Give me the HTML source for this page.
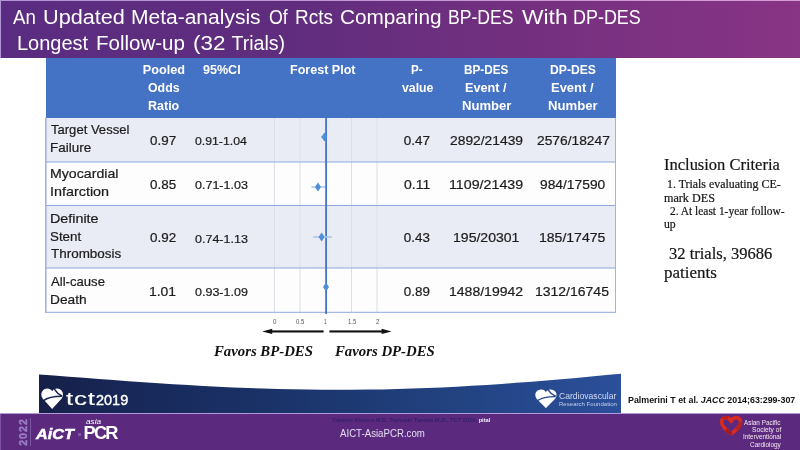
<!DOCTYPE html>
<html lang="en">
<head>
<meta charset="utf-8">
<title>An Updated Meta-analysis Of Rcts Comparing BP-DES With DP-DES</title>
<style>
html,body{margin:0;padding:0;}
body{width:800px;height:450px;position:relative;overflow:hidden;background:#fff;font-family:"Liberation Sans",sans-serif;}
.abs{position:absolute;}
.t{position:absolute;white-space:nowrap;transform-origin:0 50%;line-height:1;}
#hdr{left:0;top:0;width:800px;height:58px;background:linear-gradient(90deg,#5a2c81 0%,#602d7e 36%,#75307f 68%,#893485 100%);}
#hdr:before{content:"";position:absolute;left:0;top:0;width:800px;height:1px;background:linear-gradient(90deg,#b394d4,#d99ad8);}
#hdr:after{content:"";position:absolute;left:0;top:0;width:1px;height:58px;background:#b394d4;}
</style>
</head>
<body>
<!-- header -->
<div id="hdr" class="abs"></div>

<!-- table backgrounds -->
<div class="abs" style="left:45.5px;top:58px;width:570.3px;height:59.6px;background:#4472c4;"></div>
<div class="abs" style="left:45px;top:117.6px;width:571px;height:44.4px;background:#e9ebf5;"></div>
<div class="abs" style="left:45px;top:162px;width:571px;height:43.5px;background:#fdfdfe;"></div>
<div class="abs" style="left:45px;top:205.5px;width:571px;height:62.5px;background:#e9ebf5;"></div>
<div class="abs" style="left:45px;top:268px;width:571px;height:44.5px;background:#fdfdfe;"></div>

<!-- forest plot + lines -->
<svg class="abs" style="left:0;top:0;" width="800" height="450" viewBox="0 0 800 450">
  <g stroke="#dcdfe9" stroke-width="1">
    <line x1="274.5" y1="118" x2="274.5" y2="312"/>
    <line x1="300" y1="118" x2="300" y2="312"/>
    <line x1="351.5" y1="118" x2="351.5" y2="312"/>
    <line x1="377" y1="118" x2="377" y2="312"/>
  </g>
  <g stroke="#8fa9dc" stroke-width="1">
    <line x1="45" y1="162" x2="616" y2="162"/>
    <line x1="45" y1="205.5" x2="616" y2="205.5"/>
    <line x1="45" y1="268" x2="616" y2="268"/>
    <line x1="45" y1="312.3" x2="616" y2="312.3"/>
    <line x1="45.8" y1="117.6" x2="45.8" y2="312.8" stroke="#a3b3dd" stroke-width="1.6"/>
    <line x1="615.5" y1="117.6" x2="615.5" y2="312.8" stroke="#a3b3dd"/>
  </g>
  <line x1="326.1" y1="116" x2="326.1" y2="314" stroke="#4472c4" stroke-width="1.8"/>
  <g stroke="#a9c8ea" stroke-width="1.6">
    <line x1="321" y1="137" x2="326" y2="137"/>
    <line x1="311.5" y1="187" x2="325" y2="187"/>
    <line x1="313" y1="237" x2="332" y2="237"/>
  </g>
  <g fill="#4f8fd6">
    <path d="M324.4 132.6 l3 4.4 l-3 4.4 l-3 -4.4z"/>
    <path d="M318 182.6 l3 4.4 l-3 4.4 l-3 -4.4z"/>
    <path d="M321.6 232.6 l3 4.4 l-3 4.4 l-3 -4.4z"/>
    <path d="M326 282.6 l3 4.4 l-3 4.4 l-3 -4.4z"/>
  </g>
  <!-- arrows -->
  <g fill="#111">
    <rect x="269" y="330.4" width="54.6" height="2.1"/>
    <path d="M262.2 331.4 l10 -2.6 v5.2z"/>
    <rect x="329.4" y="330.4" width="55" height="2.1"/>
    <path d="M391.6 331.4 l-10 -2.6 v5.2z"/>
  </g>
</svg>

<!-- navy band -->
<svg class="abs" style="left:39px;top:370px;" width="582" height="43" viewBox="0 0 582 43">
  <defs>
    <linearGradient id="nv" x1="0" y1="0" x2="1" y2="0">
      <stop offset="0" stop-color="#162048"/>
      <stop offset="0.16" stop-color="#182859"/>
      <stop offset="0.36" stop-color="#1a3166"/>
      <stop offset="0.53" stop-color="#1d3972"/>
      <stop offset="0.71" stop-color="#224280"/>
      <stop offset="0.9" stop-color="#284b92"/>
      <stop offset="1" stop-color="#2b4f99"/>
    </linearGradient>
  </defs>
  <path d="M0 4.50 L14.9 5.60 L29.8 6.72 L44.8 7.85 L59.7 8.97 L74.6 10.08 L89.5 11.16 L104.5 12.21 L119.4 13.22 L134.3 14.18 L149.2 15.08 L164.2 15.92 L179.1 16.69 L194.0 17.38 L208.9 18.00 L223.8 18.53 L238.8 18.97 L253.7 19.32 L268.6 19.58 L283.5 19.74 L298.5 19.80 L313.4 19.76 L328.3 19.62 L343.2 19.38 L358.2 19.03 L373.1 18.59 L388.0 18.05 L402.9 17.41 L417.8 16.67 L432.8 15.85 L447.7 14.94 L462.6 13.94 L477.5 12.87 L492.5 11.72 L507.4 10.51 L522.3 9.23 L537.2 7.90 L552.2 6.51 L567.1 5.10 L582.0 3.64 L582 43 L0 43Z" fill="url(#nv)"/>
</svg>
<!-- tct heart -->
<svg class="abs" style="left:40.8px;top:388px;" width="22.3" height="21.4" viewBox="0 0 22 21" preserveAspectRatio="none">
  <path d="M11 3.2 C9 -0.3 3.2 -0.4 1 3.6 C-0.8 7.2 1.2 10.4 3.6 12.6 L11 20.5 L18.4 12.6 C20.8 10.4 22.8 7.2 21 3.6 C18.8 -0.4 13 -0.3 11 3.2Z" fill="#fff"/>
  <path d="M13.2 1 C15 4 17.5 6.4 21 8" stroke="#17224c" stroke-width="1.5" fill="none"/>
  <path d="M2.2 12.6 C7 9 14 8.2 20.6 8.2" stroke="#17224c" stroke-width="1.5" fill="none"/>
</svg>
<!-- CRF heart -->
<svg class="abs" style="left:535.2px;top:388.7px;" width="21.8" height="19.6" viewBox="0 0 22 21" preserveAspectRatio="none">
  <path d="M11 3.2 C9 -0.3 3.2 -0.4 1 3.6 C-0.8 7.2 1.2 10.4 3.6 12.6 L11 20.5 L18.4 12.6 C20.8 10.4 22.8 7.2 21 3.6 C18.8 -0.4 13 -0.3 11 3.2Z" fill="#fff"/>
  <path d="M13.2 1 C15 4 17.5 6.4 21 8" stroke="#29488f" stroke-width="1.5" fill="none"/>
  <path d="M2.2 12.6 C7 9 14 8.2 20.6 8.2" stroke="#29488f" stroke-width="1.5" fill="none"/>
</svg>

<!-- footer -->
<div class="abs" style="left:0;top:412.7px;width:800px;height:38px;background:#5b2a7f;"></div>
<div class="abs" style="left:0;top:412.7px;width:800px;height:1px;background:#b39ada;"></div>
<div class="abs" style="left:0;top:414px;width:1px;height:36px;background:#7c53a4;"></div>
<div class="abs" style="left:30px;top:418px;width:1px;height:28px;background:#7a57a2;"></div>
<div class="abs" style="left:17px;top:418px;width:12px;height:28px;">
  <div style="position:absolute;left:50%;top:50%;transform:translate(-50%,-50%) rotate(-90deg);font-size:10.6px;font-weight:bold;color:#9b7cc4;-webkit-text-stroke:0.4px #9b7cc4;line-height:1;letter-spacing:1px;white-space:nowrap;">2022</div>
</div>
<div class="abs" style="left:78px;top:432.5px;width:2.5px;height:3px;background:#7d5ba6;"></div>
<!-- APSIC heart -->
<svg class="abs" style="left:719px;top:415px;" width="24.5" height="22" viewBox="0 0 24.5 22">
  <path d="M12.1 6.6 C10.8 1.5 3.1 1.2 2.6 6.7 C2.3 11 6.6 14.6 12.1 18.9 C17.6 14.6 21.9 11 21.6 6.7 C21.1 1.2 13.4 1.5 12.1 6.6Z" fill="none" stroke="#da2b22" stroke-width="3.5" stroke-linejoin="round"/>
  <path d="M12.1 18.9 C10.3 17.5 8.6 16.1 7.1 14.7" fill="none" stroke="#a51b1b" stroke-width="3.5"/>
  <path d="M21.6 6.7 C21.8 9.6 20 12.2 17.4 14.6" fill="none" stroke="#b8211d" stroke-width="3.5"/>
  <path d="M3.6 3.9 C5 2.6 7.2 2.2 9.2 2.9" fill="none" stroke="#b8211d" stroke-width="3.5"/>
  <path d="M12.1 13.6 L12.1 20.4" fill="none" stroke="#5b2a80" stroke-width="0.9"/>
</svg>

<h1 style="margin:0;font-weight:normal;font-size:19.6px;">
<div class="t" style="left:13.20px;top:7.96px;font-size:19.6px;color:#fff;transform:scaleX(0.9537);">An</div>
<div class="t" style="left:42.89px;top:7.96px;font-size:19.6px;color:#fff;transform:scaleX(1.1055);">Updated</div>
<div class="t" style="left:131.33px;top:7.96px;font-size:19.6px;color:#fff;transform:scaleX(1.0718);">Meta-analysis</div>
<div class="t" style="left:268.50px;top:7.96px;font-size:19.6px;color:#fff;transform:scaleX(0.9086);">Of</div>
<div class="t" style="left:295.03px;top:7.96px;font-size:19.6px;color:#fff;transform:scaleX(0.9690);">Rcts</div>
<div class="t" style="left:340.44px;top:7.96px;font-size:19.6px;color:#fff;transform:scaleX(1.0592);">Comparing</div>
<div class="t" style="left:448.40px;top:7.96px;font-size:19.6px;color:#fff;transform:scaleX(0.8987);">BP-DES</div>
<div class="t" style="left:521.50px;top:7.96px;font-size:19.6px;color:#fff;transform:scaleX(1.1622);">With</div>
<div class="t" style="left:573.38px;top:7.96px;font-size:19.6px;color:#fff;transform:scaleX(0.9155);">DP-DES</div>
<div class="t" style="left:16.88px;top:33.76px;font-size:19.6px;color:#fff;transform:scaleX(1.0205);">Longest</div>
<div class="t" style="left:95.75px;top:33.76px;font-size:19.6px;color:#fff;transform:scaleX(1.0471);">Follow-up</div>
<div class="t" style="left:193.16px;top:33.76px;font-size:19.6px;color:#fff;transform:scaleX(1.1430);">(32</div>
<div class="t" style="left:231.40px;top:33.76px;font-size:19.6px;color:#fff;">Trials)</div>
</h1>
<div class="t" style="left:142.70px;top:64.00px;font-size:12.7px;color:#fff;font-weight:bold;">Pooled</div>
<div class="t" style="left:147.50px;top:82.00px;font-size:12.7px;color:#fff;font-weight:bold;transform:scaleX(0.9732);">Odds</div>
<div class="t" style="left:147.50px;top:100.00px;font-size:12.7px;color:#fff;font-weight:bold;transform:scaleX(0.9853);">Ratio</div>
<div class="t" style="left:203.10px;top:64.00px;font-size:12.7px;color:#fff;font-weight:bold;transform:scaleX(0.9879);">95%Cl</div>
<div class="t" style="left:289.50px;top:64.00px;font-size:12.7px;color:#fff;font-weight:bold;transform:scaleX(0.9890);">Forest Plot</div>
<div class="t" style="left:411.10px;top:64.00px;font-size:12.7px;color:#fff;font-weight:bold;transform:scaleX(0.9147);">P-</div>
<div class="t" style="left:401.70px;top:82.00px;font-size:12.7px;color:#fff;font-weight:bold;transform:scaleX(0.9664);">value</div>
<div class="t" style="left:464.40px;top:64.00px;font-size:12.7px;color:#fff;font-weight:bold;transform:scaleX(0.9247);">BP-DES</div>
<div class="t" style="left:465.00px;top:82.00px;font-size:12.7px;color:#fff;font-weight:bold;">Event /</div>
<div class="t" style="left:461.50px;top:100.00px;font-size:12.7px;color:#fff;font-weight:bold;transform:scaleX(1.0313);">Number</div>
<div class="t" style="left:550.40px;top:64.00px;font-size:12.7px;color:#fff;font-weight:bold;transform:scaleX(0.9584);">DP-DES</div>
<div class="t" style="left:551.20px;top:82.00px;font-size:12.7px;color:#fff;font-weight:bold;transform:scaleX(1.0220);">Event /</div>
<div class="t" style="left:548.00px;top:100.00px;font-size:12.7px;color:#fff;font-weight:bold;transform:scaleX(1.0375);">Number</div>
<div class="t" style="left:50.60px;top:123.48px;font-size:13.2px;color:#1c1c1c;transform:scaleX(0.9894);-webkit-text-stroke:0.22px #1c1c1c;">Target Vessel</div>
<div class="t" style="left:49.58px;top:141.28px;font-size:13.2px;color:#1c1c1c;transform:scaleX(1.0212);-webkit-text-stroke:0.22px #1c1c1c;">Failure</div>
<div class="t" style="left:49.53px;top:167.18px;font-size:13.2px;color:#1c1c1c;transform:scaleX(1.0727);-webkit-text-stroke:0.22px #1c1c1c;">Myocardial</div>
<div class="t" style="left:49.51px;top:185.38px;font-size:13.2px;color:#1c1c1c;transform:scaleX(1.0886);-webkit-text-stroke:0.22px #1c1c1c;">Infarction</div>
<div class="t" style="left:49.51px;top:211.78px;font-size:13.2px;color:#1c1c1c;transform:scaleX(1.0858);-webkit-text-stroke:0.22px #1c1c1c;">Definite</div>
<div class="t" style="left:50.40px;top:229.98px;font-size:13.2px;color:#1c1c1c;transform:scaleX(1.0119);-webkit-text-stroke:0.22px #1c1c1c;">Stent</div>
<div class="t" style="left:50.60px;top:247.48px;font-size:13.2px;color:#1c1c1c;transform:scaleX(1.0189);-webkit-text-stroke:0.22px #1c1c1c;">Thrombosis</div>
<div class="t" style="left:50.60px;top:274.98px;font-size:13.2px;color:#1c1c1c;transform:scaleX(0.9944);-webkit-text-stroke:0.22px #1c1c1c;">All-cause</div>
<div class="t" style="left:49.56px;top:292.78px;font-size:13.2px;color:#1c1c1c;transform:scaleX(1.0397);-webkit-text-stroke:0.22px #1c1c1c;">Death</div>
<div class="t" style="left:150.10px;top:133.71px;font-size:13.4px;color:#1c1c1c;-webkit-text-stroke:0.22px #1c1c1c;">0.97</div>
<div class="t" style="left:194.90px;top:135.25px;font-size:11.7px;color:#1c1c1c;transform:scaleX(1.0484);-webkit-text-stroke:0.22px #1c1c1c;">0.91-1.04</div>
<div class="t" style="left:403.80px;top:133.71px;font-size:13.4px;color:#1c1c1c;-webkit-text-stroke:0.22px #1c1c1c;">0.47</div>
<div class="t" style="left:450.00px;top:133.71px;font-size:13.4px;color:#1c1c1c;transform:scaleX(1.0327);-webkit-text-stroke:0.22px #1c1c1c;">2892/21439</div>
<div class="t" style="left:536.50px;top:133.71px;font-size:13.4px;color:#1c1c1c;transform:scaleX(1.0299);-webkit-text-stroke:0.22px #1c1c1c;">2576/18247</div>
<div class="t" style="left:150.10px;top:177.51px;font-size:13.4px;color:#1c1c1c;-webkit-text-stroke:0.22px #1c1c1c;">0.85</div>
<div class="t" style="left:194.90px;top:179.05px;font-size:11.7px;color:#1c1c1c;transform:scaleX(1.0698);-webkit-text-stroke:0.22px #1c1c1c;">0.71-1.03</div>
<div class="t" style="left:403.80px;top:177.51px;font-size:13.4px;color:#1c1c1c;transform:scaleX(1.0439);-webkit-text-stroke:0.22px #1c1c1c;">0.11</div>
<div class="t" style="left:448.94px;top:177.51px;font-size:13.4px;color:#1c1c1c;transform:scaleX(1.0629);-webkit-text-stroke:0.22px #1c1c1c;">1109/21439</div>
<div class="t" style="left:540.30px;top:177.51px;font-size:13.4px;color:#1c1c1c;transform:scaleX(1.0310);-webkit-text-stroke:0.22px #1c1c1c;">984/17590</div>
<div class="t" style="left:150.10px;top:231.11px;font-size:13.4px;color:#1c1c1c;-webkit-text-stroke:0.22px #1c1c1c;">0.92</div>
<div class="t" style="left:194.90px;top:232.65px;font-size:11.7px;color:#1c1c1c;transform:scaleX(1.0698);-webkit-text-stroke:0.22px #1c1c1c;">0.74-1.13</div>
<div class="t" style="left:403.80px;top:231.11px;font-size:13.4px;color:#1c1c1c;-webkit-text-stroke:0.22px #1c1c1c;">0.43</div>
<div class="t" style="left:452.80px;top:231.11px;font-size:13.4px;color:#1c1c1c;transform:scaleX(1.0493);-webkit-text-stroke:0.22px #1c1c1c;">195/20301</div>
<div class="t" style="left:539.25px;top:231.11px;font-size:13.4px;color:#1c1c1c;transform:scaleX(1.0477);-webkit-text-stroke:0.22px #1c1c1c;">185/17475</div>
<div class="t" style="left:149.06px;top:284.51px;font-size:13.4px;color:#1c1c1c;transform:scaleX(1.0400);-webkit-text-stroke:0.22px #1c1c1c;">1.01</div>
<div class="t" style="left:194.90px;top:286.05px;font-size:11.7px;color:#1c1c1c;transform:scaleX(1.0698);-webkit-text-stroke:0.22px #1c1c1c;">0.93-1.09</div>
<div class="t" style="left:403.80px;top:284.51px;font-size:13.4px;color:#1c1c1c;-webkit-text-stroke:0.22px #1c1c1c;">0.89</div>
<div class="t" style="left:448.95px;top:284.51px;font-size:13.4px;color:#1c1c1c;transform:scaleX(1.0476);-webkit-text-stroke:0.22px #1c1c1c;">1488/19942</div>
<div class="t" style="left:535.46px;top:284.51px;font-size:13.4px;color:#1c1c1c;transform:scaleX(1.0448);-webkit-text-stroke:0.22px #1c1c1c;">1312/16745</div>
<div class="t" style="left:272.80px;top:318.43px;font-size:7.7px;color:#555;transform:scaleX(0.8000);">0</div>
<div class="t" style="left:295.95px;top:318.43px;font-size:7.7px;color:#555;transform:scaleX(0.7780);">0.5</div>
<div class="t" style="left:324.20px;top:318.43px;font-size:7.7px;color:#555;transform:scaleX(0.6500);">1</div>
<div class="t" style="left:347.65px;top:318.43px;font-size:7.7px;color:#555;transform:scaleX(0.7780);">1.5</div>
<div class="t" style="left:375.70px;top:318.43px;font-size:7.7px;color:#555;transform:scaleX(0.8000);">2</div>
<div class="t" style="left:214.15px;top:343.79px;font-size:14.1px;color:#111;font-family:'Liberation Serif',serif;font-weight:bold;font-style:italic;transform:scaleX(1.0479);">Favors BP-DES</div>
<div class="t" style="left:335.25px;top:343.79px;font-size:14.1px;color:#111;font-family:'Liberation Serif',serif;font-weight:bold;font-style:italic;transform:scaleX(1.0488);">Favors DP-DES</div>
<div class="t" style="left:664.00px;top:157.30px;font-size:16px;color:#161616;font-family:'Liberation Serif',serif;transform:scaleX(1.0302);-webkit-text-stroke:0.2px #161616;">Inclusion Criteria</div>
<div class="t" style="left:667.17px;top:179.07px;font-size:11.5px;color:#161616;font-family:'Liberation Serif',serif;transform:scaleX(1.0342);-webkit-text-stroke:0.2px #161616;">1. Trials evaluating CE-</div>
<div class="t" style="left:664.00px;top:193.27px;font-size:11.5px;color:#161616;font-family:'Liberation Serif',serif;transform:scaleX(1.0557);-webkit-text-stroke:0.2px #161616;">mark DES</div>
<div class="t" style="left:670.00px;top:206.47px;font-size:11.5px;color:#161616;font-family:'Liberation Serif',serif;transform:scaleX(0.9940);-webkit-text-stroke:0.2px #161616;">2. At least 1-year follow-</div>
<div class="t" style="left:664.00px;top:219.07px;font-size:11.5px;color:#161616;font-family:'Liberation Serif',serif;transform:scaleX(1.0213);-webkit-text-stroke:0.2px #161616;">up</div>
<div class="t" style="left:669.40px;top:246.30px;font-size:16px;color:#161616;font-family:'Liberation Serif',serif;transform:scaleX(1.0321);-webkit-text-stroke:0.2px #161616;">32 trials, 39686</div>
<div class="t" style="left:664.10px;top:264.50px;font-size:16px;color:#161616;font-family:'Liberation Serif',serif;transform:scaleX(1.0598);-webkit-text-stroke:0.2px #161616;">patients</div>
<div class="t" style="left:66.00px;top:389.87px;font-size:18.4px;color:#fff;letter-spacing:0.6px;transform:scaleX(1.4021);-webkit-text-stroke:0.15px #fff;">tct</div>
<div class="t" style="left:95.90px;top:393.12px;font-size:14.8px;color:#fff;transform:scaleX(0.9790);-webkit-text-stroke:0.4px #fff;">2019</div>
<div class="t" style="left:559.00px;top:392.34px;font-size:8.4px;color:#cfdcf5;transform:scaleX(1.0255);">Cardiovascular</div>
<div class="t" style="left:559.00px;top:401.19px;font-size:6.1px;color:#c0cfee;transform:scaleX(0.9935);">Research Foundation</div>
<div class="t" style="left:627.90px;top:396.13px;font-size:9px;color:#111;font-weight:bold;transform:scaleX(0.9831);">Palmerini T et al. <i>JACC</i> 2014;63:299-307</div>
<div class="t" style="left:35.89px;top:427.03px;font-size:14.2px;color:#fff;font-weight:bold;font-style:italic;transform:scaleX(1.1430);-webkit-text-stroke:0.5px #fff;">AiCT</div>
<div class="t" style="left:85.75px;top:418.05px;font-size:7.8px;color:#fff;font-style:italic;transform:scaleX(1.0523);">asia</div>
<div class="t" style="left:83.60px;top:424.04px;font-size:18.2px;color:#fff;font-weight:bold;letter-spacing:-1.8px;">PCR</div>
<div class="t" style="left:331.60px;top:419.47px;font-size:4.7px;color:#35206c;font-weight:bold;transform:scaleX(1.2184);">Takeshi Kimura M.D, Tomoaki Tanaka M.D., TCT 2019, <span style="color:#f4eefa">pital</span></div>
<div class="t" style="left:340.00px;top:428.08px;font-size:10.6px;color:#e4dcf0;transform:scaleX(0.9122);">AICT-AsiaPCR.com</div>
<div class="t" style="left:744.40px;top:418.72px;font-size:7.0px;color:#f6e8ee;transform:scaleX(0.9083);">Asian Pacific</div>
<div class="t" style="left:751.90px;top:426.02px;font-size:7.0px;color:#f6e8ee;transform:scaleX(0.9531);">Society of</div>
<div class="t" style="left:742.50px;top:433.12px;font-size:7.0px;color:#f6e8ee;transform:scaleX(0.9124);">Interventional</div>
<div class="t" style="left:750.00px;top:440.52px;font-size:7.0px;color:#f6e8ee;transform:scaleX(0.9201);">Cardiology</div>
</body>
</html>
